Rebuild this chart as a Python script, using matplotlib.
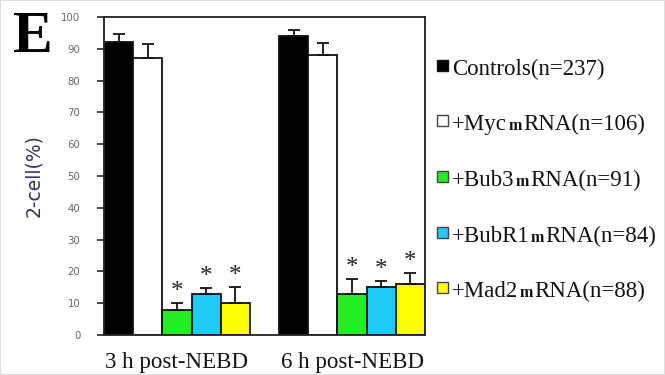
import matplotlib
matplotlib.use("Agg")
import matplotlib.pyplot as plt
from matplotlib.patches import Rectangle
import numpy as np

# ---- data ----
groups = ["3 h post-NEBD", "6 h post-NEBD"]
series = ["Controls", "+Myc", "+Bub3", "+BubR1", "+Mad2"]
ns = [237, 106, 91, 84, 88]
values_3h = [92, 87, 8, 13, 10]
values_6h = [94, 88, 13, 15, 16]
errors_3h = [2.6, 4.6, 2.0, 1.7, 5.0]
errors_6h = [1.9, 3.8, 4.5, 1.9, 3.5]
significant = [False, False, True, True, True]
colors = ["#000000", "#ffffff", "#22ee22", "#1ecbf5", "#ffff00"]
yticks = [0, 10, 20, 30, 40, 50, 60, 70, 80, 90, 100]

W, H = 665, 375
fig = plt.figure(figsize=(W / 100, H / 100), dpi=100)
ax = fig.add_axes([104 / W, 1 - 335 / H, (425 - 104) / W, (335 - 17) / H])

vals = np.array([values_3h, values_6h])
errs = np.array([errors_3h, errors_6h])
n_s = len(series)
for gi in range(len(groups)):
    x = gi * (n_s + 1) + np.arange(n_s) + 0.5
    for si in range(n_s):
        ax.bar(x[si], vals[gi, si], width=1.0, color=colors[si],
               edgecolor="#111111", linewidth=1.3, zorder=2)
        ax.errorbar(x[si], vals[gi, si], yerr=[[0], [errs[gi, si]]],
                    fmt="none", ecolor="#111111", elinewidth=1.3,
                    capsize=4.5, capthick=1.3, zorder=3)
        if significant[si]:
            ax.text(x[si], vals[gi, si] + errs[gi, si] + 3.6, "*",
                    ha="center", va="center", fontsize=18,
                    family="Liberation Serif", color="#222222")

ax.set_xlim(0, 2 * n_s + 1)
ax.set_ylim(0, 100)
ax.set_yticks(yticks)
ax.set_yticklabels([str(t) for t in yticks], fontsize=7.3, color="#666666",
                   family="DejaVu Sans")
ax.tick_params(axis="y", direction="out", length=5, width=1.2, pad=12,
               color="#222222")
ax.set_xticks([2.5, 8.5])
ax.set_xticklabels(groups, fontsize=16.5, family="Liberation Serif",
                   color="#111111")
ax.tick_params(axis="x", length=0, pad=12)
for s in ax.spines.values():
    s.set_linewidth(1.3)
    s.set_color("#222222")

# y-axis label
fig.text(34 / W, 1 - 176 / H, "2-cell(%)", rotation=90, ha="center",
         va="center", fontsize=13.5, family="DejaVu Sans", color="#333366")

# panel letter
fig.text(13 / W, 1 - 52 / H, "E", fontsize=43, fontweight="bold",
         family="Liberation Serif", va="baseline", ha="left")

# legend (manual)
baselines = [75, 130, 186, 242, 297]
for si in range(n_s):
    yb = 1 - baselines[si] / H
    sq = 11
    fig.patches.append(Rectangle((437 / W, 1 - (baselines[si] - 4) / H),
                                 sq / W, sq / H, transform=fig.transFigure,
                                 facecolor=colors[si],
                                 edgecolor="#111111" if si == 0 else "#444444",
                                 linewidth=1.0))
    if si == 0:
        parts = [(f"{series[si]}(n={ns[si]})", "normal", 16.5)]
    else:
        parts = [(series[si], "normal", 16.5), ("m", "bold", 11.5),
                 (f"RNA(n={ns[si]})", "normal", 16.5)]
    prev = None
    for txt, wt, fs in parts:
        if prev is None:
            prev = fig.text(452 / W, yb, txt, fontsize=fs, fontweight=wt,
                            family="Liberation Serif", va="baseline",
                            ha="left", color="#111111")
        else:
            prev = ax.annotate(txt, xy=(1, yb),
                               xycoords=(prev, "figure fraction"),
                               xytext=(1, 0), textcoords="offset points",
                               fontsize=fs, fontweight=wt,
                               family="Liberation Serif", va="baseline",
                               ha="left", color="#111111",
                               annotation_clip=False)

# faint figure border
fig.patches.append(Rectangle((0, 0), 1, 1, transform=fig.transFigure,
                             fill=False, edgecolor="#dddddd", linewidth=1.5))

fig.savefig("out.png", dpi=100)
